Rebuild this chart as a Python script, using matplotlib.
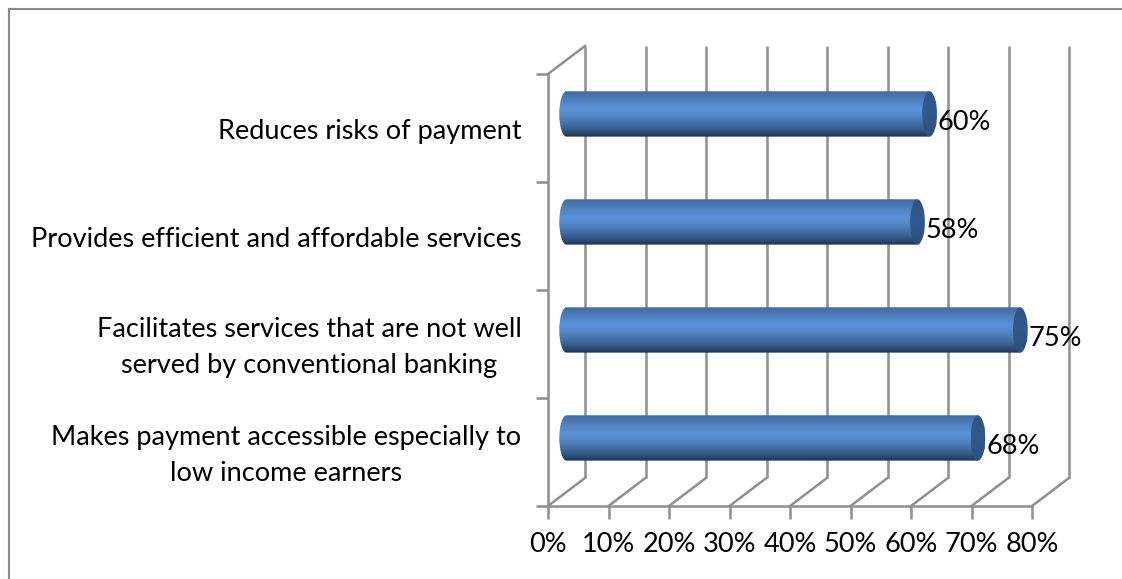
import numpy as np
import matplotlib
matplotlib.use("Agg")
import matplotlib.pyplot as plt
from matplotlib.colors import LinearSegmentedColormap
from matplotlib.patches import Ellipse, PathPatch
from matplotlib.path import Path
from matplotlib.transforms import ScaledTranslation

plt.rcParams['font.family'] = ['Lato', 'DejaVu Sans']

categories = ["Makes payment accessible especially to\nlow income earners",
              "Facilitates services that are not well\nserved by conventional banking",
              "Provides efficient and affordable services",
              "Reduces risks of payment"]
values = [68, 75, 58, 60]
value_labels = ["68%", "75%", "58%", "60%"]
x_ticks = [0, 10, 20, 30, 40, 50, 60, 70, 80]

W, H = 1122, 579
GRID = "#8f8f8f"
TEXT_SIZE = 19.5
LW = 1.8

# depth of the fake 3d box, in data units
depth_x = 6.12
depth_y = 0.26
bar_half = 0.21
cap_half = 1.2

fig = plt.figure(figsize=(W/100, H/100), dpi=100)
fig.patch.set_facecolor("white")
ax = fig.add_axes([548/W, 1-506/H, (1032-548)/W, (506-74)/H])
ax.set_xlim(0, 80)
ax.set_ylim(0, 4)
for s in ax.spines.values():
    s.set_visible(False)
ax.patch.set_visible(False)

# walls and floor
for x in x_ticks:
    ax.plot([x+depth_x, x+depth_x], [depth_y, 4+depth_y], color=GRID, lw=LW, clip_on=False, zorder=1, solid_capstyle="butt")
    ax.plot([x, x+depth_x], [0, depth_y], color=GRID, lw=LW, clip_on=False, zorder=1)
ax.plot([0, 0], [0, 4], color=GRID, lw=LW, clip_on=False, zorder=1)
ax.plot([0, 80], [0, 0], color=GRID, lw=LW, clip_on=False, zorder=1)
ax.plot([0, depth_x], [4, 4+depth_y], color=GRID, lw=LW, clip_on=False, zorder=1)

ax.set_xticks(x_ticks)
ax.set_xticklabels([str(x)+"%" for x in x_ticks], fontsize=TEXT_SIZE, color="black")
ax.set_yticks(range(5))
ax.set_yticklabels([])
ax.set_yticks(np.arange(4)+0.5, labels=categories, minor=True, fontsize=TEXT_SIZE, color="black", ma="center", linespacing=1.55)
ax.tick_params(axis="both", which="major", length=9, width=LW, color=GRID)
ax.tick_params(axis="x", which="major", pad=10)
ax.tick_params(axis="y", which="minor", length=0, pad=19)

# two-line labels sit a little higher than one-line labels
for lab in ax.get_yticklabels(minor=True):
    dy = 3/72 if "\n" in lab.get_text() else -1/72
    lab.set_transform(lab.get_transform() + ScaledTranslation(0, dy, fig.dpi_scale_trans))

body = LinearSegmentedColormap.from_list("body", ["#41699f", "#4f81bf", "#5b93d8", "#4f80bd", "#3a6294", "#1e3555"])
cap = LinearSegmentedColormap.from_list("cap", ["#2e5585", "#32598c", "#2c4f7c"])
grad = np.linspace(0, 1, 128).reshape(-1, 1)

x0 = depth_x/2
for i, v in enumerate(values):
    yc = i + 0.5 + depth_y/2
    x1 = x0 + v
    top, bot = yc+bar_half, yc-bar_half
    k = 0.5523
    # cylinder side: rounded at the base, closed by the end ellipse
    verts = [(x0, bot), (x1, bot),
             (x1+cap_half, bot+bar_half*(1-k)), (x1+cap_half, yc-bar_half*k), (x1+cap_half, yc),
             (x1+cap_half, yc+bar_half*k), (x1+cap_half, top-bar_half*(1-k)), (x1, top),
             (x0, top),
             (x0-cap_half*k, top), (x0-cap_half, yc+bar_half*k), (x0-cap_half, yc),
             (x0-cap_half, yc-bar_half*k), (x0-cap_half*k, bot), (x0, bot), (x0, bot)]
    codes = [Path.MOVETO, Path.LINETO, Path.CURVE4, Path.CURVE4, Path.CURVE4, Path.CURVE4, Path.CURVE4, Path.CURVE4,
             Path.LINETO, Path.CURVE4, Path.CURVE4, Path.CURVE4, Path.CURVE4, Path.CURVE4, Path.CURVE4, Path.CLOSEPOLY]
    clip = PathPatch(Path(verts, codes), transform=ax.transData, fc="none", ec="none")
    ax.add_patch(clip)
    im = ax.imshow(grad, extent=[x0-cap_half, x1+cap_half, bot, top], cmap=body, aspect="auto", zorder=3, origin="upper")
    im.set_clip_path(clip)
    ell = Ellipse((x1, yc), 2*cap_half, 2*bar_half, fc="none", ec="none", transform=ax.transData)
    ax.add_patch(ell)
    im2 = ax.imshow(grad, extent=[x1-cap_half, x1+cap_half, bot, top], cmap=cap, aspect="auto", zorder=4, origin="upper")
    im2.set_clip_path(ell)
    ax.annotate(value_labels[i], (x1, yc), xytext=(6, -6.5), textcoords="offset points", fontsize=TEXT_SIZE,
                color="black", ha="left", va="center", zorder=5, annotation_clip=False)

ax.set_xlim(0, 80)
ax.set_ylim(0, 4)

# chart frame, open at the bottom and right
fig.add_artist(plt.Line2D([8.5/W, 8.5/W], [0, 1-8.5/H], color="#8a8a8a", lw=1.5))
fig.add_artist(plt.Line2D([8.5/W, 1], [1-8.5/H, 1-8.5/H], color="#8a8a8a", lw=1.5))

fig.savefig("out.png", dpi=100)
